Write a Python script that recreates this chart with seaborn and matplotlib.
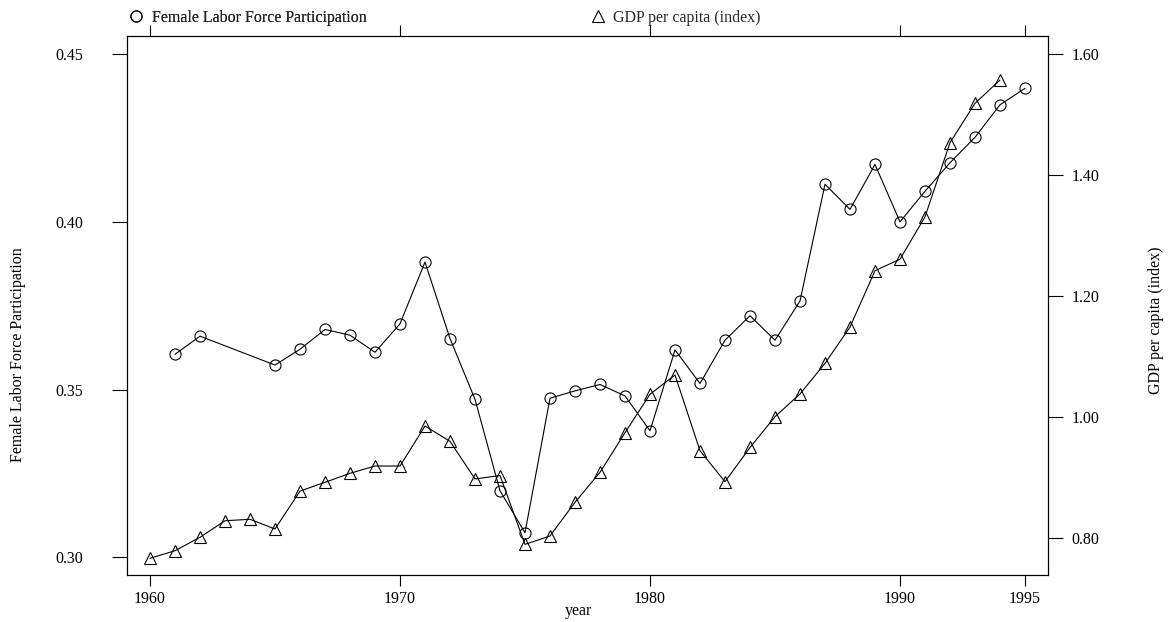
import matplotlib
matplotlib.use("Agg")
import matplotlib.pyplot as plt
import seaborn as sns
import pandas as pd
from matplotlib.lines import Line2D

# ---------------- data ----------------
flfp_years = [1961, 1962, 1965, 1966, 1967, 1968, 1969, 1970, 1971, 1972,
              1973, 1974, 1975, 1976, 1977, 1978, 1979, 1980, 1981, 1982,
              1983, 1984, 1985, 1986, 1987, 1988, 1989, 1990, 1991, 1992,
              1993, 1994, 1995]
flfp_values = [0.3605, 0.3659, 0.3573, 0.3620, 0.3679, 0.3662, 0.3611, 0.3696,
               0.3880, 0.3652, 0.3471, 0.3198, 0.3073, 0.3474, 0.3496, 0.3515,
               0.3481, 0.3377, 0.3618, 0.3518, 0.3647, 0.3720, 0.3647, 0.3764,
               0.4112, 0.4037, 0.4171, 0.4000, 0.4091, 0.4176, 0.4252, 0.4349,
               0.4398]

gdp_years = [1960, 1961, 1962, 1963, 1964, 1965, 1966, 1967, 1968, 1969,
             1970, 1971, 1972, 1973, 1974, 1975, 1976, 1977, 1978, 1979,
             1980, 1981, 1982, 1983, 1984, 1985, 1986, 1987, 1988, 1989,
             1990, 1991, 1992, 1993, 1994]
gdp_values = [0.767, 0.7795, 0.8017, 0.829, 0.8314, 0.8154, 0.878, 0.8925,
              0.9074, 0.9194, 0.9194, 0.9855, 0.9602, 0.898, 0.9037, 0.790,
              0.8038, 0.8595, 0.909, 0.9744, 1.038, 1.0697, 0.9447, 0.8935,
              0.950, 1.0009, 1.0384, 1.089, 1.149, 1.242, 1.261, 1.331,
              1.4535, 1.5185, 1.557]

x_ticks = [1960, 1970, 1980, 1990, 1995]
x_ticklabels = ["1960", "1970", "1980", "1990", "1995"]
left_ticks = [0.30, 0.35, 0.40, 0.45]
left_ticklabels = ["0.30", "0.35", "0.40", "0.45"]
right_ticks = [0.80, 1.00, 1.20, 1.40, 1.60]
right_ticklabels = ["0.80", "1.00", "1.20", "1.40", "1.60"]

flfp_label = "Female Labor Force Participation"
gdp_label = "GDP per capita (index)"
x_label = "year"

# ---------------- style ----------------
sns.set_theme(style="white")
plt.rcParams["font.family"] = ["Liberation Serif", "DejaVu Serif"]

W, H = 1173, 622
fig = plt.figure(figsize=(W / 100, H / 100), dpi=100)
L, R, T, B = 127, 1048, 36, 575
ax = fig.add_axes([L / W, 1 - B / H, (R - L) / W, (B - T) / H])
ax2 = ax.twinx()

df_f = pd.DataFrame({"year": flfp_years, "value": flfp_values})
df_g = pd.DataFrame({"year": gdp_years, "value": gdp_values})

MS = 8
sns.lineplot(data=df_f, x="year", y="value", ax=ax, color="black", lw=0.8,
             marker="o", markersize=MS, markerfacecolor="none",
             markeredgecolor="black", markeredgewidth=0.8,
             estimator=None, sort=False)
sns.lineplot(data=df_g, x="year", y="value", ax=ax2, color="black", lw=0.8,
             marker="^", markersize=MS, markerfacecolor="none",
             markeredgecolor="black", markeredgewidth=0.8,
             estimator=None, sort=False)

ax.set_xlim(1959.08, 1995.92)
ax.set_ylim(0.2947, 0.4554)
ax2.set_ylim(0.7394, 1.6297)

ax.set_xticks(x_ticks)
ax.set_xticklabels(x_ticklabels)
ax.set_yticks(left_ticks)
ax.set_yticklabels(left_ticklabels)
ax2.set_yticks(right_ticks)
ax2.set_yticklabels(right_ticklabels)

for a in (ax, ax2):
    a.set_xlabel("")
    a.set_ylabel("")
    for s in a.spines.values():
        s.set_color("black")
        s.set_linewidth(0.8)

ax.tick_params(axis="x", direction="out", length=8, width=0.8, color="black",
               bottom=True, top=True, labelbottom=True, labeltop=False,
               pad=3.4, labelsize=11.5, labelcolor="black")
ax.tick_params(axis="y", direction="out", length=10.8, width=0.8, color="black",
               left=True, right=False, labelleft=True, labelright=False,
               pad=20.5, labelsize=11.5, labelcolor="black")
ax2.tick_params(axis="y", direction="out", length=10.8, width=0.8, color="black",
                right=True, left=False, labelright=True, labelleft=False,
                pad=6, labelsize=11.5, labelcolor="black")

# axis titles
fig.text(18 / W, 1 - 355 / H, flfp_label, rotation=90, ha="center", va="center",
         fontsize=11.5, color="black")
fig.text(1156 / W, 1 - 320 / H, gdp_label, rotation=90, ha="center", va="center",
         fontsize=11.5, color="black")
fig.text(578 / W, 1 - 615 / H, x_label, ha="center", va="baseline",
         fontsize=11.5, color="black")

# key at top
h1 = Line2D([], [], marker="o", linestyle="none", markersize=MS,
            markerfacecolor="none", markeredgecolor="black", markeredgewidth=0.8)
h2 = Line2D([], [], marker="^", linestyle="none", markersize=MS,
            markerfacecolor="none", markeredgecolor="black", markeredgewidth=0.8)
leg1 = fig.legend(handles=[h1], labels=[flfp_label], loc="center left",
                  bbox_to_anchor=(128.5 / W, 1 - 17.5 / H), frameon=False,
                  handlelength=1, handletextpad=0.47, borderpad=0,
                  borderaxespad=0, fontsize=11.5)
leg2 = fig.legend(handles=[h2], labels=[gdp_label], loc="center left",
                  bbox_to_anchor=(590 / W, 1 - 17.5 / H), frameon=False,
                  handlelength=1, handletextpad=0.47, borderpad=0,
                  borderaxespad=0, fontsize=11.5)
fig.add_artist(leg1)

fig.savefig("out.png", dpi=100)
